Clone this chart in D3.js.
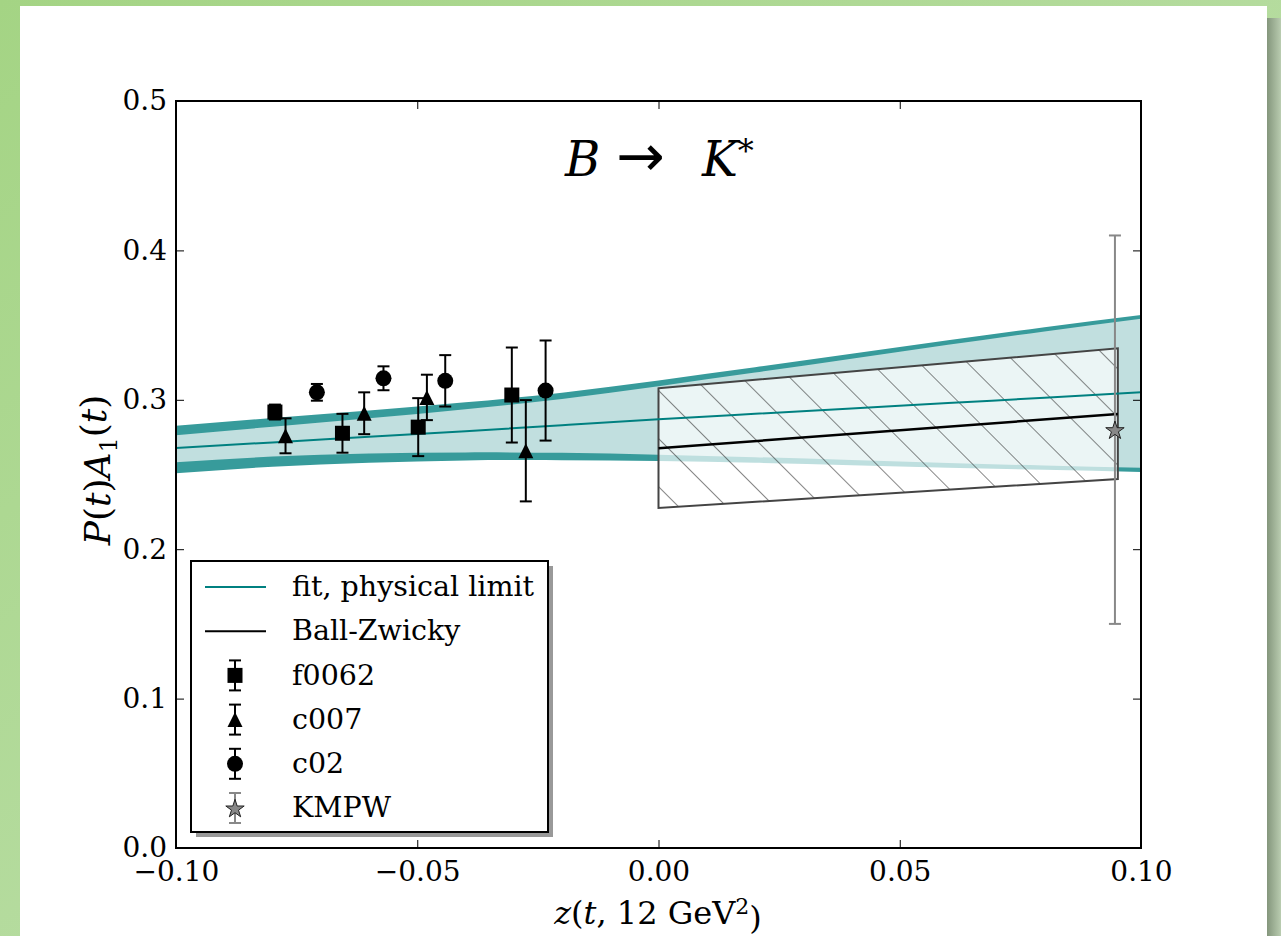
<!DOCTYPE html>
<html>
<head>
<meta charset="utf-8">
<script src="https://cdn.jsdelivr.net/npm/d3@7"></script>
<style>
  body { margin: 0; overflow: hidden; background: #fff; }
  svg { display: block; }
  text { font-family: "DejaVu Serif", serif; fill: #000; }
</style>
</head>
<body>
<div id="chart"></div>
<script>
// fit band, sampled along z
const bandZ      = [-0.10, -0.08, -0.06, -0.04, -0.02, 0.00, 0.02, 0.04, 0.06, 0.08, 0.10];
const upperOuter = [0.2827, 0.2878, 0.2928, 0.2983, 0.3048, 0.3130, 0.3218, 0.3308, 0.3398, 0.3486, 0.3568];
const upperInner = [0.2763, 0.2820, 0.2876, 0.2937, 0.3006, 0.3091, 0.3182, 0.3275, 0.3368, 0.3458, 0.3542];
const lowerInner = [0.2582, 0.2620, 0.2641, 0.2648, 0.2645, 0.2633, 0.2616, 0.2597, 0.2577, 0.2560, 0.2545];
const lowerOuter = [0.2508, 0.2552, 0.2579, 0.2594, 0.2596, 0.2590, 0.2578, 0.2562, 0.2546, 0.2531, 0.2517];
const fitCentral = [0.2677, 0.2715, 0.2752, 0.2790, 0.2830, 0.2870, 0.2906, 0.2942, 0.2978, 0.3014, 0.3050];

// Ball-Zwicky band
const bzZ       = [0.0, 0.0952];
const bzCentral = [0.2675, 0.2905];
const bzUpper   = [0.3077, 0.3345];
const bzLower   = [0.2276, 0.2470];

// lattice data: z, value, error
const f0062 = [[-0.0795, 0.2918, 0.0050], [-0.0655, 0.2776, 0.0130], [-0.0498, 0.2817, 0.0194], [-0.0304, 0.3032, 0.0318]];
const c007  = [[-0.0773, 0.2759, 0.0117], [-0.0610, 0.2910, 0.0140], [-0.0480, 0.3016, 0.0152], [-0.0275, 0.2659, 0.0339]];
const c02   = [[-0.0708, 0.3050, 0.0056], [-0.0570, 0.3144, 0.0080], [-0.0442, 0.3127, 0.0172], [-0.0234, 0.3062, 0.0335]];
const kmpw  = [[0.0946, 0.2800, 0.1300]];

const xTicks = [-0.10, -0.05, 0.00, 0.05, 0.10];
const yTicks = [0.0, 0.1, 0.2, 0.3, 0.4, 0.5];
const legendLabels = ["fit, physical limit", "Ball-Zwicky", "f0062", "c007", "c02", "KMPW"];

const W = 1281, H = 936;
const margin = {left: 176, right: W - 1141, top: 101, bottom: H - 848};
const pw = W - margin.left - margin.right, ph = H - margin.top - margin.bottom;

const svg = d3.select("#chart").append("svg").attr("width", W).attr("height", H);
const defs = svg.append("defs");

// page backdrop
const bg = defs.append("linearGradient").attr("id", "bg").attr("x1", 0).attr("y1", 0).attr("x2", 1).attr("y2", 1);
bg.append("stop").attr("offset", 0).attr("stop-color", "#a4d484");
bg.append("stop").attr("offset", 0.55).attr("stop-color", "#b6dca0");
bg.append("stop").attr("offset", 1).attr("stop-color", "#cbe5bd");
const sh = defs.append("linearGradient").attr("id", "shadow").attr("x1", 0).attr("y1", 0).attr("x2", 1).attr("y2", 0);
sh.append("stop").attr("offset", 0).attr("stop-color", "#84967c");
sh.append("stop").attr("offset", 1).attr("stop-color", "#b9ccb0");
svg.append("rect").attr("width", W).attr("height", H).attr("fill", "url(#bg)");
svg.append("rect").attr("x", 1267).attr("y", 18).attr("width", 14).attr("height", H).attr("fill", "url(#shadow)");
svg.append("rect").attr("x", 20).attr("y", 6).attr("width", 1247).attr("height", H).attr("fill", "#fff");

// hatch pattern
const hatch = defs.append("pattern").attr("id", "hatch").attr("patternUnits", "userSpaceOnUse")
  .attr("width", 34).attr("height", 34).attr("patternTransform", "rotate(-45)");
hatch.append("line").attr("x1", 0).attr("y1", 0).attr("x2", 0).attr("y2", 34)
  .attr("stroke", "#222").attr("stroke-width", 1.1);

defs.append("clipPath").attr("id", "plotclip").append("rect").attr("width", pw).attr("height", ph);

const g = svg.append("g").attr("transform", `translate(${margin.left},${margin.top})`);

const x = d3.scaleLinear().domain([-0.1, 0.1]).range([0, pw]);
const y = d3.scaleLinear().domain([0, 0.5]).range([ph, 0]);

const plot = g.append("g").attr("clip-path", "url(#plotclip)");

const area = (lo, hi, zs, curve) => d3.area().curve(curve || d3.curveNatural)
  .x((d, i) => x(zs[i])).y0((d, i) => y(lo[i])).y1((d, i) => y(hi[i]))(zs);
const line = (vals, zs) => d3.line().curve(d3.curveNatural)
  .x((d, i) => x(zs[i])).y((d, i) => y(vals[i]))(zs);

plot.append("path").attr("d", area(lowerOuter, upperOuter, bandZ)).attr("fill", "#379b9b");
plot.append("path").attr("d", area(lowerInner, upperInner, bandZ)).attr("fill", "#c1dfdf");

// Ball-Zwicky box
const bzArea = area(bzLower, bzUpper, bzZ, d3.curveLinear);
plot.append("path").attr("d", bzArea).attr("fill", "#fff").attr("fill-opacity", 0.68);
plot.append("path").attr("d", bzArea).attr("fill", "url(#hatch)");
plot.append("path").attr("d", bzArea + "Z").attr("fill", "none").attr("stroke", "#444").attr("stroke-width", 2);

plot.append("path").attr("d", line(fitCentral, bandZ)).attr("fill", "none").attr("stroke", "#008080").attr("stroke-width", 2);
plot.append("path").attr("d", line(bzCentral, bzZ)).attr("fill", "none").attr("stroke", "#000").attr("stroke-width", 2.5);

// markers
const tri = s => `M0,${-s}L${s},${s}L${-s},${s}Z`;
const starPath = d3.symbol().type(d3.symbolStar).size(105)();
const markers = {
  square: sel => sel.append("rect").attr("x", -7.5).attr("y", -7.5).attr("width", 15).attr("height", 15).attr("fill", "#000"),
  triangle: sel => sel.append("path").attr("d", tri(7.5)).attr("fill", "#000"),
  circle: sel => sel.append("circle").attr("r", 8).attr("fill", "#000"),
  star: sel => sel.append("path").attr("d", starPath).attr("transform", "translate(0,1)").attr("fill", "#888").attr("stroke", "#222").attr("stroke-width", 1)
};

function errorbars(data, kind, color) {
  const grp = plot.append("g").selectAll("g").data(data).join("g")
    .attr("transform", d => `translate(${x(d[0])},0)`);
  grp.append("line").attr("y1", d => y(d[1] - d[2])).attr("y2", d => y(d[1] + d[2]))
    .attr("stroke", color).attr("stroke-width", 2);
  grp.append("line").attr("x1", -6).attr("x2", 6).attr("y1", d => y(d[1] + d[2])).attr("y2", d => y(d[1] + d[2]))
    .attr("stroke", color).attr("stroke-width", 2);
  grp.append("line").attr("x1", -6).attr("x2", 6).attr("y1", d => y(d[1] - d[2])).attr("y2", d => y(d[1] - d[2]))
    .attr("stroke", color).attr("stroke-width", 2);
  const m = grp.append("g").attr("transform", d => `translate(0,${y(d[1])})`);
  markers[kind](m);
}
errorbars(f0062, "square", "#000");
errorbars(c007, "triangle", "#000");
errorbars(c02, "circle", "#000");
errorbars(kmpw, "star", "#888");

// axes with inward ticks on all sides
g.append("g").attr("transform", `translate(0,${ph})`)
  .call(d3.axisBottom(x).tickValues(xTicks).tickFormat(d3.format(".2f")).tickSizeInner(-8).tickSizeOuter(0).tickPadding(13));
g.append("g")
  .call(d3.axisLeft(y).tickValues(yTicks).tickFormat(d3.format(".1f")).tickSizeInner(-8).tickSizeOuter(0).tickPadding(9));
g.append("g").call(d3.axisTop(x).tickValues(xTicks).tickFormat("").tickSizeInner(-8).tickSizeOuter(0));
g.append("g").attr("transform", `translate(${pw},0)`)
  .call(d3.axisRight(y).tickValues(yTicks).tickFormat("").tickSizeInner(-8).tickSizeOuter(0));
g.selectAll(".domain").remove();
g.selectAll(".tick line").attr("stroke", "#000").attr("stroke-width", 1);
g.selectAll(".tick text").style("font-family", "DejaVu Serif").style("font-size", "28px").attr("fill", "#000");
g.append("rect").attr("width", pw).attr("height", ph).attr("fill", "none").attr("stroke", "#000").attr("stroke-width", 2);

// legend
const lg = svg.append("g").attr("transform", "translate(191,561)");
lg.append("rect").attr("x", 5).attr("y", 5).attr("width", 357).attr("height", 271).attr("fill", "#999");
lg.append("rect").attr("width", 357).attr("height", 271).attr("fill", "#fff").attr("stroke", "#000").attr("stroke-width", 2);
const rowY = i => 26 + i * 44.2;
legendLabels.forEach((lab, i) => {
  const row = lg.append("g").attr("transform", `translate(0,${rowY(i)})`);
  if (i < 2) {
    row.append("line").attr("x1", 14).attr("x2", 75).attr("stroke", i === 0 ? "#008080" : "#000").attr("stroke-width", 2);
  } else {
    const kind = ["square", "triangle", "circle", "star"][i - 2];
    const col = i === 5 ? "#888" : "#000";
    const m = row.append("g").attr("transform", "translate(44,0)");
    m.append("line").attr("y1", -15).attr("y2", 15).attr("stroke", col).attr("stroke-width", 2);
    m.append("line").attr("x1", -6).attr("x2", 6).attr("y1", -15).attr("y2", -15).attr("stroke", col).attr("stroke-width", 2);
    m.append("line").attr("x1", -6).attr("x2", 6).attr("y1", 15).attr("y2", 15).attr("stroke", col).attr("stroke-width", 2);
    markers[kind](m);
  }
  row.append("text").attr("x", 101).attr("dy", "0.32em").style("font-size", "28.5px").text(lab);
});

// title
const tfs = "48px";
svg.append("text").attr("x", 565).attr("y", 176).style("font-size", tfs).style("font-style", "italic").text("B");
svg.append("text").attr("x", 616).attr("y", 176).style("font-size", "58px").style("font-family", "DejaVu Sans").text("\u2192");
const kt = svg.append("text").attr("x", 702).attr("y", 176).style("font-size", tfs);
kt.append("tspan").style("font-style", "italic").text("K");
kt.append("tspan").attr("dy", "-0.45em").style("font-size", "32px").text("*");

// axis labels
const xl = svg.append("text").attr("x", 658).attr("y", 924).attr("text-anchor", "middle").style("font-size", "32px");
xl.append("tspan").style("font-style", "italic").text("z");
xl.append("tspan").text("(");
xl.append("tspan").style("font-style", "italic").text("t");
xl.append("tspan").text(", 12 GeV");
xl.append("tspan").attr("dy", "-0.45em").style("font-size", "22px").text("2");
xl.append("tspan").attr("dy", "0.45em").text(")");

const yl = svg.append("text").attr("transform", "translate(110,470) rotate(-90)").attr("text-anchor", "middle").style("font-size", "36px");
yl.append("tspan").style("font-style", "italic").text("P");
yl.append("tspan").text("(");
yl.append("tspan").style("font-style", "italic").text("t");
yl.append("tspan").text(")");
yl.append("tspan").style("font-style", "italic").text("A");
yl.append("tspan").attr("dy", "0.3em").style("font-size", "24px").text("1");
yl.append("tspan").attr("dy", "-0.3em").text("(");
yl.append("tspan").style("font-style", "italic").text("t");
yl.append("tspan").text(")");
</script>
</body>
</html>
